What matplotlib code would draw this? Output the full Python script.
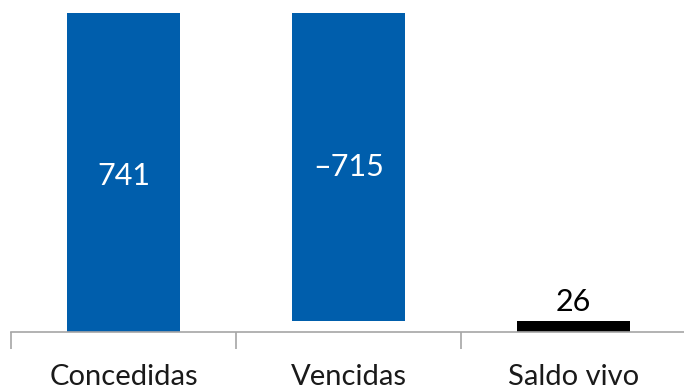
import matplotlib
matplotlib.use("Agg")
import matplotlib.pyplot as plt

categories = ["Concedidas", "Vencidas", "Saldo vivo"]
changes = [741, -715, 26]
labels = ["741", "–715", "26"]

plt.rcParams['font.family'] = ['Lato', 'DejaVu Sans']

fig = plt.figure(figsize=(6.84, 3.91), dpi=100)
ax = fig.add_axes([11/684, 59/391, 675/684, 319/391])

blue = "#005EAC"
# waterfall: bases
bottoms = [0, changes[0] + changes[1], 0]
heights = [changes[0], -changes[1], changes[2]]
colors = [blue, blue, "black"]
x = range(len(categories))
ax.bar(x, heights, bottom=bottoms, width=0.5, color=colors)

# labels
ax.text(0, bottoms[0] + heights[0] / 2 - 8, labels[0], ha="center", va="center",
        color="white", fontsize=22)
ax.text(1, bottoms[1] + heights[1] / 2, labels[1], ha="center", va="center",
        color="white", fontsize=22)
ax.text(2, bottoms[2] + heights[2] + 12, labels[2], ha="center", va="bottom",
        color="black", fontsize=22)

ax.set_xlim(-0.5, 2.5)
ax.set_ylim(0, 741)
for s in ["top", "right", "left"]:
    ax.spines[s].set_visible(False)
ax.spines["bottom"].set_color("#A6A6A6")
ax.spines["bottom"].set_linewidth(1.2)
ax.set_yticks([])
ax.set_xticks([-0.5, 0.5, 1.5], minor=False)
ax.set_xticklabels([])
ax.tick_params(axis="x", which="major", length=12, color="#A6A6A6", width=1.2)
ax.set_xticks(list(x), minor=True)
ax.set_xticklabels(categories, minor=True, fontsize=21, color="#1a1a1a")
ax.tick_params(axis="x", which="minor", length=0, pad=23)

fig.savefig("out.png", dpi=100)
